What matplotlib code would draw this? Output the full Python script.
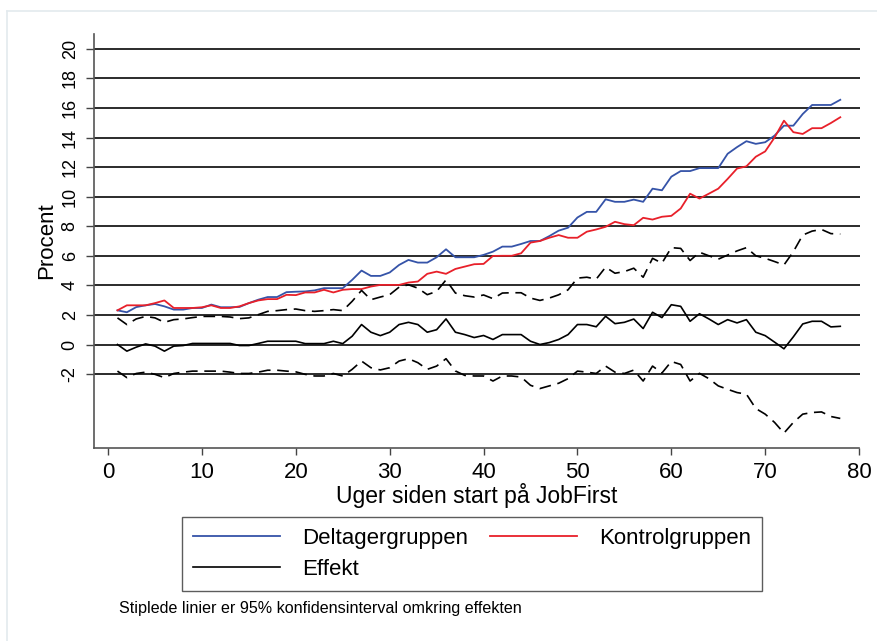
#Importation des bibliothèques
import matplotlib
matplotlib.use("Agg")
import matplotlib.pyplot as plt
from matplotlib.lines import Line2D

plt.rcParams['font.family'] = ['Liberation Sans', 'DejaVu Sans']

# Uger siden start
uger = list(range(1, 79))

# Deltagergruppen (blå)
deltager = [2.31, 2.18, 2.53, 2.65, 2.74, 2.58, 2.36, 2.36, 2.47, 2.47,
            2.70, 2.52, 2.52, 2.54, 2.80, 3.03, 3.21, 3.21, 3.54, 3.57,
            3.59, 3.66, 3.81, 3.81, 3.81, 4.37, 5.00, 4.64, 4.64, 4.87,
            5.38, 5.72, 5.54, 5.54, 5.90, 6.44, 5.90, 5.90, 5.90, 6.06,
            6.28, 6.62, 6.62, 6.80, 7.00, 7.00, 7.33, 7.70, 7.90, 8.59,
            8.97, 8.97, 9.82, 9.65, 9.65, 9.80, 9.65, 10.54, 10.43, 11.35,
            11.73, 11.73, 11.93, 11.93, 11.93, 12.90, 13.35, 13.75, 13.57, 13.68,
            14.13, 14.80, 14.80, 15.59, 16.20, 16.20, 16.20, 16.55]

# Kontrolgruppen (rød)
kontrol = [2.31, 2.65, 2.65, 2.65, 2.80, 2.98, 2.47, 2.47, 2.47, 2.52,
           2.65, 2.47, 2.47, 2.58, 2.80, 2.98, 3.07, 3.07, 3.36, 3.34,
           3.52, 3.52, 3.70, 3.52, 3.70, 3.75, 3.75, 3.92, 4.03, 4.03,
           4.03, 4.19, 4.26, 4.78, 4.93, 4.78, 5.11, 5.27, 5.43, 5.45,
           5.99, 6.00, 6.00, 6.17, 6.89, 7.00, 7.22, 7.40, 7.22, 7.22,
           7.63, 7.78, 7.96, 8.30, 8.14, 8.07, 8.57, 8.45, 8.64, 8.70,
           9.20, 10.20, 9.87, 10.20, 10.54, 11.20, 11.90, 12.05, 12.70, 13.06,
           14.00, 15.14, 14.36, 14.24, 14.63, 14.63, 14.98, 15.37]

# Effekt
effekt = [0.00, -0.45, -0.18, 0.04, -0.11, -0.45, -0.11, -0.07, 0.07, 0.07,
          0.07, 0.07, 0.07, -0.07, -0.07, 0.07, 0.22, 0.22, 0.22, 0.22,
          0.06, 0.06, 0.06, 0.22, 0.06, 0.56, 1.35, 0.83, 0.60, 0.83,
          1.35, 1.50, 1.35, 0.83, 1.00, 1.73, 0.83, 0.67, 0.47, 0.61,
          0.34, 0.67, 0.67, 0.67, 0.22, 0.00, 0.13, 0.34, 0.67, 1.35,
          1.35, 1.20, 1.91, 1.41, 1.50, 1.72, 1.08, 2.18, 1.82, 2.69,
          2.58, 1.57, 2.08, 1.73, 1.35, 1.68, 1.46, 1.68, 0.83, 0.60,
          0.16, -0.29, 0.52, 1.39, 1.57, 1.57, 1.19, 1.23]

# 95% konfidensinterval
ci_ovre = [1.80, 1.35, 1.73, 1.90, 1.80, 1.50, 1.68, 1.73, 1.82, 1.90,
           1.90, 1.90, 1.86, 1.75, 1.80, 2.02, 2.24, 2.29, 2.36, 2.40,
           2.29, 2.24, 2.29, 2.36, 2.29, 2.92, 3.66, 3.03, 3.21, 3.37,
           3.88, 4.04, 3.81, 3.37, 3.59, 4.37, 3.48, 3.30, 3.21, 3.35,
           3.10, 3.48, 3.50, 3.50, 3.14, 2.98, 3.14, 3.36, 3.70, 4.49,
           4.55, 4.42, 5.23, 4.82, 4.93, 5.16, 4.55, 5.83, 5.50, 6.55,
           6.50, 5.68, 6.24, 6.00, 5.77, 6.05, 6.33, 6.55, 6.00, 5.83,
           5.61, 5.38, 6.28, 7.40, 7.67, 7.78, 7.50, 7.47]

ci_nedre = [-1.80, -2.24, -1.96, -1.87, -2.02, -2.24, -1.96, -1.87, -1.80, -1.80,
            -1.80, -1.80, -1.87, -1.96, -1.96, -1.87, -1.74, -1.74, -1.80, -1.85,
            -2.02, -2.13, -2.13, -1.96, -2.13, -1.68, -1.12, -1.57, -1.72, -1.57,
            -1.12, -0.96, -1.23, -1.68, -1.46, -0.96, -1.79, -2.09, -2.13, -2.13,
            -2.47, -2.13, -2.13, -2.20, -2.76, -2.98, -2.80, -2.62, -2.31, -1.80,
            -1.87, -1.96, -1.46, -1.87, -1.96, -1.73, -2.47, -1.46, -1.93, -1.15,
            -1.35, -2.47, -1.95, -2.31, -2.80, -3.03, -3.25, -3.36, -4.33, -4.71,
            -5.27, -5.99, -5.27, -4.71, -4.60, -4.56, -4.87, -5.00]

y_ticks = list(range(-2, 21, 2))
x_ticks = list(range(0, 81, 10))

fig = plt.figure(figsize=(8.77, 6.41), dpi=100)

# Lys ramme om figuren
fig.add_artist(Line2D([7/877, 7/877], [0, 1 - 11/641], color='#e3eaee', lw=1.2))
fig.add_artist(Line2D([7/877, 1], [1 - 11/641, 1 - 11/641], color='#e3eaee', lw=1.2))

ax = fig.add_axes([94/877, 1 - 448/641, 766/877, 414/641])

# Vandrette linjer
for y in y_ticks:
    ax.axhline(y, color='#1a1a1a', lw=1.3, zorder=1)

blaa = '#3553a8'
roed = '#e8202a'
ax.plot(uger, deltager, color=blaa, lw=1.3, zorder=3)
ax.plot(uger, kontrol, color=roed, lw=1.3, zorder=3)
ax.plot(uger, effekt, color='black', lw=1.2, zorder=3)
ax.plot(uger, ci_ovre, color='black', lw=1.2, dashes=(7, 4), zorder=3)
ax.plot(uger, ci_nedre, color='black', lw=1.2, dashes=(7, 4), zorder=3)

ax.set_xlim(-1.5, 80.1)
ax.set_ylim(-7, 21)

ax.set_yticks(y_ticks)
ax.set_yticklabels([str(v) for v in y_ticks], rotation=90, va='center', fontsize=13)
ax.set_xticks(x_ticks)
ax.set_xticklabels([str(v) for v in x_ticks], fontsize=16)

ax.tick_params(axis='y', length=6, width=1, color='#444444', pad=5)
ax.tick_params(axis='x', length=5, width=1, color='#444444', pad=5)

for side in ['top', 'right']:
    ax.spines[side].set_visible(False)
for side in ['left', 'bottom']:
    ax.spines[side].set_color('#555555')
    ax.spines[side].set_linewidth(1.2)
ax.spines['bottom'].set_bounds(-1.5, 80)

ax.set_ylabel('Procent', fontsize=16, labelpad=3)
ax.set_xlabel('Uger siden start på JobFirst', fontsize=16.5, labelpad=0)

# Legende
handles = [Line2D([], [], color=blaa, lw=1.3),
           Line2D([], [], color='black', lw=1.2),
           Line2D([], [], color=roed, lw=1.3)]
labels = ['Deltagergruppen', 'Effekt', 'Kontrolgruppen']
leg = fig.legend(handles, labels, ncol=2, loc='center',
                 bbox_to_anchor=(472/877, 1 - 554/641), fontsize=16,
                 frameon=True, fancybox=False, edgecolor='#333333',
                 handlelength=3.9, handletextpad=1.0, columnspacing=1.0,
                 labelspacing=0.45, borderpad=0.5)
leg.get_frame().set_linewidth(1.0)

fig.text(119/877, 1 - 609/641, 'Stiplede linier er 95% konfidensinterval omkring effekten',
         fontsize=11.6, va='center', ha='left')

plt.savefig('out.png', dpi=100)
